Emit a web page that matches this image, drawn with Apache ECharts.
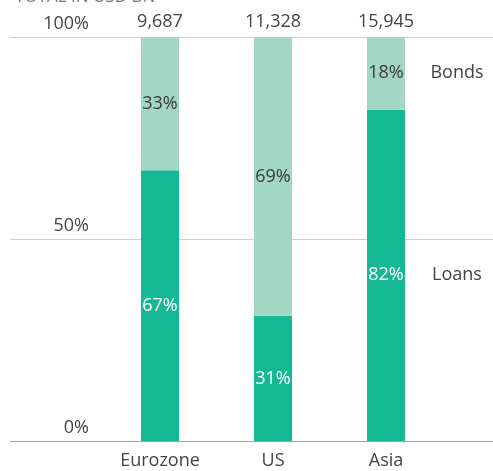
<!DOCTYPE html>
<html>
<head>
<meta charset="utf-8">
<script src="https://cdn.jsdelivr.net/npm/echarts@6/dist/echarts.min.js"></script>
<style>
  html, body { margin: 0; padding: 0; background: #fff; }
  #chart { width: 493px; height: 471px; }
</style>
</head>
<body>
<div id="chart"></div>
<script>
  // data
  var regions = ['Eurozone', 'US', 'Asia']
  var totals = ['9,687', '11,328', '15,945']
  var loans = [67, 31, 82]
  var bonds = [33, 69, 18]
  var seriesNames = ['Loans', 'Bonds']

  var FONT = '"Open Sans", sans-serif'
  var chart = echarts.init(document.getElementById('chart'))

  var last = regions.length - 1
  var option = {
    animation: false,
    textStyle: { fontFamily: FONT },
    title: {
      text: 'TOTAL IN USD BN',
      left: 10,
      top: -16,
      textStyle: { fontFamily: FONT, fontSize: 17, fontWeight: 'normal', color: '#777' }
    },
    grid: [
      { left: 10, right: 0, top: 37, bottom: 30 },
      { left: 103.5, width: 339, top: 37, bottom: 30 }
    ],
    xAxis: [
      {
        gridIndex: 0, type: 'value', min: 0, max: 1,
        axisLine: { show: true, lineStyle: { color: '#a6a6a6', width: 1 } },
        axisTick: { show: false }, axisLabel: { show: false }, splitLine: { show: false }
      },
      {
        gridIndex: 1, type: 'category', data: regions, position: 'bottom',
        axisLine: { show: false }, axisTick: { show: false },
        axisLabel: { fontSize: 18, color: '#444', margin: 11, fontFamily: FONT }
      },
      {
        gridIndex: 1, type: 'category', data: totals, position: 'top',
        axisLine: { show: false }, axisTick: { show: false },
        axisLabel: { fontSize: 18, color: '#444', margin: 6, fontFamily: FONT }
      }
    ],
    yAxis: [
      {
        gridIndex: 0, type: 'value', min: 0, max: 100, interval: 50,
        axisLine: { show: false }, axisTick: { show: false },
        splitLine: { lineStyle: { color: '#d0d0d0', width: 1 } },
        axisLabel: {
          formatter: '{value}%', fontSize: 18, color: '#444', fontFamily: FONT,
          align: 'right', verticalAlign: 'bottom', margin: -79, padding: [0, 0, 4, 0]
        }
      },
      {
        gridIndex: 1, type: 'value', min: 0, max: 100, show: false
      }
    ],
    series: [
      {
        name: seriesNames[0], type: 'bar', stack: 'all',
        xAxisIndex: 1, yAxisIndex: 1, barWidth: 38,
        data: loans,
        itemStyle: { color: '#14b894' },
        label: {
          show: true, position: 'inside', formatter: '{c}%',
          fontSize: 18, color: '#fff', fontFamily: FONT
        },
        markPoint: {
          symbol: 'circle', symbolSize: 1,
          itemStyle: { color: 'rgba(0,0,0,0)' },
          label: { show: true, position: 'inside', offset: [71, 0], formatter: seriesNames[0], fontSize: 18, color: '#444', fontFamily: FONT },
          data: [{ coord: [regions[last], loans[last] / 2] }]
        }
      },
      {
        name: seriesNames[1], type: 'bar', stack: 'all',
        xAxisIndex: 1, yAxisIndex: 1, barWidth: 38,
        data: bonds,
        itemStyle: { color: '#a2d6c5' },
        label: {
          show: true, position: 'inside', formatter: '{c}%',
          fontSize: 18, color: '#3a3a3a', fontFamily: FONT
        },
        markPoint: {
          symbol: 'circle', symbolSize: 1,
          itemStyle: { color: 'rgba(0,0,0,0)' },
          label: { show: true, position: 'inside', offset: [71, 0], formatter: seriesNames[1], fontSize: 18, color: '#444', fontFamily: FONT },
          data: [{ coord: [regions[last], loans[last] + bonds[last] / 2] }]
        }
      }
    ]
  }
  chart.setOption(option)
</script>
</body>
</html>
